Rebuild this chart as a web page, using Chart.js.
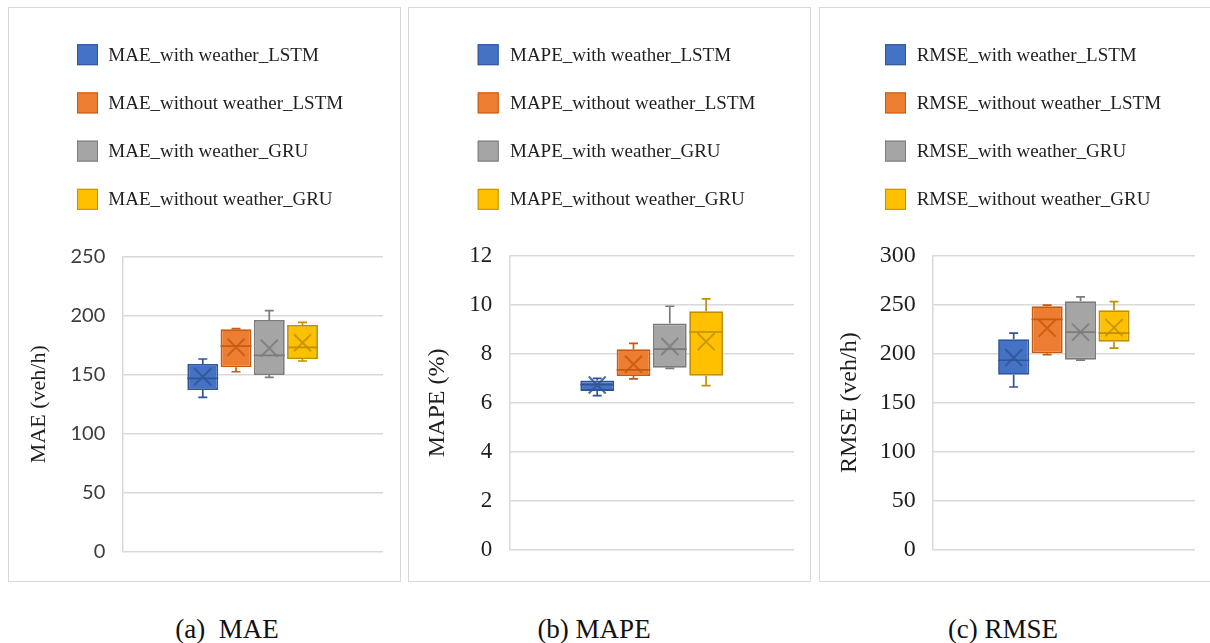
<!DOCTYPE html>
<html>
<head>
<meta charset="utf-8">
<script src="https://cdn.jsdelivr.net/npm/chart.js@4.4.1/dist/chart.umd.min.js"></script>
<style>
  html, body { margin: 0; padding: 0; background: #fff; width: 1210px; height: 643px; overflow: hidden; }
  body { position: relative; }
  .frame { position: absolute; border: 1px solid #d9d9d9; box-sizing: border-box; }
  .holder { position: absolute; }
  .cap { position: absolute; font-family: "Liberation Serif", "Times New Roman", serif; font-size: 27px;
         color: #111; white-space: pre; transform: translate(-50%, -50%); }
</style>
</head>
<body>
<div class="frame" style="left:8px;top:7px;width:393px;height:575px"></div>
<div class="frame" style="left:408px;top:7px;width:403px;height:575px"></div>
<div class="frame" style="left:819px;top:7px;width:410px;height:575px"></div>

<div class="holder" style="left:8px;top:7px;width:392px;height:574px"><canvas id="cMae" width="392" height="574"></canvas></div>
<div class="holder" style="left:408px;top:7px;width:402px;height:574px"><canvas id="cMape" width="402" height="574"></canvas></div>
<div class="holder" style="left:819px;top:7px;width:400px;height:574px"><canvas id="cRmse" width="400" height="574"></canvas></div>

<div class="cap" style="left:227px;top:629px">(a)  MAE</div>
<div class="cap" style="left:594px;top:629px">(b) MAPE</div>
<div class="cap" style="left:1003px;top:629px">(c) RMSE</div>

<script>
// Series (one box per model / input setting)
const seriesNames = ['with weather_LSTM', 'without weather_LSTM', 'with weather_GRU', 'without weather_GRU'];

// MAE (veh/h) five-number summaries and means
const maeMin    = [130.8, 152.5, 147.8, 161.6];
const maeQ1     = [137.0, 156.3, 149.7, 163.3];
const maeMedian = [146.9, 174.3, 166.4, 173.2];
const maeQ3     = [159.1, 188.5, 196.4, 192.1];
const maeMax    = [163.3, 189.0, 204.3, 194.4];
const maeMean   = [148.3, 173.2, 172.4, 177.1];
const maeTicks  = [0, 50, 100, 150, 200, 250];

// MAPE (%)
const mapeMin    = [6.30, 6.98, 7.41, 6.71];
const mapeQ1     = [6.49, 7.10, 7.43, 7.11];
const mapeMedian = [6.75, 7.35, 8.19, 8.89];
const mapeQ3     = [6.91, 8.19, 9.24, 9.74];
const mapeMax    = [7.00, 8.43, 9.94, 10.24];
const mapeMean   = [6.73, 7.58, 8.30, 8.50];
const mapeTicks  = [0, 2, 4, 6, 8, 10, 12];

// RMSE (veh/h)
const rmseMin    = [166.0, 199.0, 193.5, 205.7];
const rmseQ1     = [178.5, 200.3, 193.9, 212.1];
const rmseMedian = [193.3, 235.0, 221.9, 220.9];
const rmseQ3     = [214.8, 248.5, 253.5, 244.4];
const rmseMax    = [220.9, 249.5, 257.9, 253.2];
const rmseMean   = [196.0, 226.0, 222.0, 226.6];
const rmseTicks  = [0, 50, 100, 150, 200, 250, 300];

const fillColors = ['#4472C4', '#ED7D31', '#A5A5A5', '#FFC000'];
const edgeColors = ['#2F5597', '#C55A11', '#7B7B7B', '#BF9000'];

// Whiskers, median line and mean cross, placed on each box through the y scale
const boxExtras = {
  id: 'boxExtras',
  afterDatasetsDraw(chart) {
    const ctx = chart.ctx;
    const ys = chart.scales.y;
    chart.data.datasets.forEach((ds, i) => {
      const bar = chart.getDatasetMeta(i).data[0];
      if (!bar) return;
      const s = ds.stats;
      const x = bar.x, half = bar.width / 2;
      const px = v => ys.getPixelForValue(v);
      ctx.save();
      ctx.strokeStyle = ds.borderColor;
      ctx.lineWidth = 1.7;
      ctx.beginPath();
      // upper whisker
      ctx.moveTo(x, px(s.q3)); ctx.lineTo(x, px(s.max));
      ctx.moveTo(x - 4.5, px(s.max)); ctx.lineTo(x + 4.5, px(s.max));
      // lower whisker
      ctx.moveTo(x, px(s.q1)); ctx.lineTo(x, px(s.min));
      ctx.moveTo(x - 4.5, px(s.min)); ctx.lineTo(x + 4.5, px(s.min));
      // median
      ctx.moveTo(x - half, px(s.median)); ctx.lineTo(x + half, px(s.median));
      ctx.stroke();
      // mean marker
      const my = px(s.mean), r = 8.5;
      ctx.lineWidth = 2;
      ctx.globalAlpha = 0.85;
      ctx.beginPath();
      ctx.moveTo(x - r, my - r); ctx.lineTo(x + r, my + r);
      ctx.moveTo(x - r, my + r); ctx.lineTo(x + r, my - r);
      ctx.stroke();
      ctx.restore();
    });
  }
};

// Stacked legend list above the plot area
const stackLegend = {
  id: 'stackLegend',
  afterDraw(chart, args, opts) {
    const ctx = chart.ctx;
    ctx.save();
    ctx.font = '19px "Liberation Serif", "Times New Roman", serif';
    ctx.textBaseline = 'middle';
    ctx.textAlign = 'left';
    chart.data.datasets.forEach((ds, i) => {
      const cy = opts.top + i * opts.step;
      ctx.fillStyle = ds.backgroundColor;
      ctx.fillRect(opts.left, cy - 10.5, 21, 21);
      ctx.strokeStyle = ds.borderColor;
      ctx.lineWidth = 1;
      ctx.strokeRect(opts.left + 0.5, cy - 10, 20, 20);
      ctx.fillStyle = '#1e1e1e';
      ctx.fillText(ds.label, opts.textLeft, cy + 1);
    });
    ctx.restore();
  }
};

function makeBoxChart(id, cfg) {
  const datasets = seriesNames.map((name, i) => ({
    label: cfg.prefix + '_' + name,
    data: [[cfg.q1[i], cfg.q3[i]]],
    backgroundColor: fillColors[i],
    borderColor: edgeColors[i],
    borderWidth: 1.8,
    borderSkipped: false,
    categoryPercentage: 0.51,
    barPercentage: 0.93,
    stats: { min: cfg.min[i], q1: cfg.q1[i], median: cfg.median[i], q3: cfg.q3[i], max: cfg.max[i], mean: cfg.mean[i] }
  }));
  const ticks = cfg.ticks;
  return new Chart(document.getElementById(id), {
    type: 'bar',
    data: { labels: [cfg.prefix], datasets },
    options: {
      responsive: false,
      animation: false,
      events: [],
      layout: { padding: cfg.padding },
      plugins: {
        legend: { display: false },
        tooltip: { enabled: false },
        stackLegend: cfg.legend
      },
      scales: {
        x: { display: false },
        y: {
          min: ticks[0],
          max: ticks[ticks.length - 1],
          afterBuildTicks: s => { s.ticks = ticks.map(v => ({ value: v })); },
          afterFit: s => { s.width = cfg.axisWidth; },
          grid: { color: '#d9d9d9', lineWidth: 1.5, drawTicks: false },
          border: { display: true, color: '#d9d9d9', width: 1.5 },
          ticks: { padding: 17, color: cfg.tickColor, font: cfg.tickFont },
          title: {
            display: true,
            text: cfg.title,
            color: '#1e1e1e',
            font: { family: '"Liberation Serif", "Times New Roman", serif', size: cfg.titleSize },
            padding: { top: cfg.titlePad, bottom: 0 }
          }
        }
      }
    },
    plugins: [boxExtras, stackLegend]
  });
}

makeBoxChart('cMae', {
  prefix: 'MAE', min: maeMin, q1: maeQ1, median: maeMedian, q3: maeQ3, max: maeMax, mean: maeMean,
  ticks: maeTicks, title: 'MAE (veh/h)', titleSize: 22, titlePad: 18,
  tickFont: { family: 'Lato, "Open Sans", sans-serif', size: 20 }, tickColor: '#3c3c3c',
  axisWidth: 114.3, padding: { top: 249.7, right: 17, bottom: 29.3, left: 0 },
  legend: { left: 69, textLeft: 100.3, top: 47.7, step: 48.2 }
});

makeBoxChart('cMape', {
  prefix: 'MAPE', min: mapeMin, q1: mapeQ1, median: mapeMedian, q3: mapeQ3, max: mapeMax, mean: mapeMean,
  ticks: mapeTicks, title: 'MAPE (%)', titleSize: 24, titlePad: 15.6,
  tickFont: { family: '"Liberation Serif", "Times New Roman", serif', size: 23 }, tickColor: '#1e1e1e',
  axisWidth: 101.3, padding: { top: 248.7, right: 16, bottom: 28.3, left: 0 },
  legend: { left: 69.7, textLeft: 102, top: 47.7, step: 48.2 }
});

makeBoxChart('cRmse', {
  prefix: 'RMSE', min: rmseMin, q1: rmseQ1, median: rmseMedian, q3: rmseQ3, max: rmseMax, mean: rmseMean,
  ticks: rmseTicks, title: 'RMSE (veh/h)', titleSize: 24, titlePad: 16.6,
  tickFont: { family: '"Liberation Serif", "Times New Roman", serif', size: 24 }, tickColor: '#1e1e1e',
  axisWidth: 113.7, padding: { top: 248.7, right: 24, bottom: 28.3, left: 0 },
  legend: { left: 66, textLeft: 97.7, top: 47.7, step: 48.2 }
});
</script>
</body>
</html>
